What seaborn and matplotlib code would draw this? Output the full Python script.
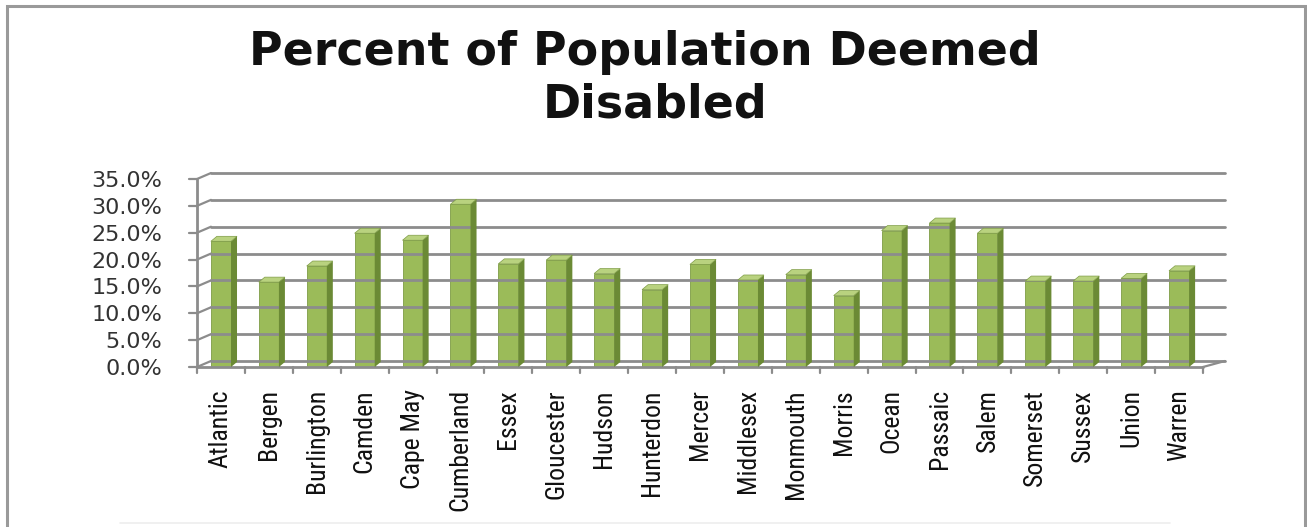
import numpy as np
import pandas as pd
import matplotlib
matplotlib.use("Agg")
import matplotlib.pyplot as plt
import seaborn as sns
from matplotlib import font_manager
from matplotlib.lines import Line2D
from matplotlib.patches import Polygon, Rectangle
from matplotlib.ticker import FuncFormatter, MultipleLocator

counties = ["Atlantic", "Bergen", "Burlington", "Camden", "Cape May", "Cumberland",
            "Essex", "Gloucester", "Hudson", "Hunterdon", "Mercer", "Middlesex",
            "Monmouth", "Morris", "Ocean", "Passaic", "Salem", "Somerset",
            "Sussex", "Union", "Warren"]
pct_disabled = [23.4, 15.8, 18.8, 24.9, 23.6, 30.3, 19.2, 19.9, 17.4, 14.4, 19.1,
                16.2, 17.2, 13.3, 25.4, 26.8, 24.9, 16.0, 16.0, 16.5, 17.9]
title_lines = ["Percent of Population Deemed", "Disabled"]
y_ticks = [0, 5, 10, 15, 20, 25, 30, 35]

df = pd.DataFrame({"County": counties, "Percent": pct_disabled})

# pick a condensed font for category labels if one is installed
label_fp = None
for fam in ["Liberation Sans Narrow", "Roboto Condensed", "Open Sans Condensed",
            "Noto Sans Condensed", "DejaVu Sans Condensed"]:
    try:
        font_manager.findfont(font_manager.FontProperties(family=fam), fallback_to_default=False)
        label_fp = dict(family=[fam, "DejaVu Sans"], fontsize=18.5)
        break
    except Exception:
        pass
if label_fp is None:
    for fam in ["Noto Sans", "DejaVu Sans", "Open Sans"]:
        f = font_manager.findfont(font_manager.FontProperties(family=fam, stretch="condensed"))
        if "ondensed" in f or "arrow" in f:
            label_fp = dict(family=[fam, "DejaVu Sans"], fontstretch="condensed", fontsize=18.5)
            break
if label_fp is None:
    label_fp = dict(family=["Roboto", "DejaVu Sans"], fontsize=15.5)

sns.set_theme(style="white")
plt.rcParams["font.family"] = ["DejaVu Sans"]

W, H, DPI = 1307, 527, 100
fig = plt.figure(figsize=(W / DPI, H / DPI), dpi=DPI)
ax = fig.add_axes([197 / W, (H - 367) / H, (1203 - 197) / W, (367 - 179) / H])

front = "#9BBB59"
side = "#6B8A35"
top = "#B9D27F"
sns.barplot(data=df, x="County", y="Percent", color=front, width=0.42,
            saturation=1, ax=ax, edgecolor="#7E9C46", linewidth=0.6, zorder=3)

ax.set_xlim(-0.5, len(counties) - 0.5)
ax.set_ylim(0, 35)
ax.set_xlabel("")
ax.set_ylabel("")
ax.grid(False)
for s in ax.spines.values():
    s.set_visible(False)

ax.yaxis.set_major_locator(MultipleLocator(5))
ax.yaxis.set_major_formatter(FuncFormatter(lambda v, p: f"{v:.1f}%"))
ax.tick_params(axis="y", labelsize=16, colors="#333333", length=0, pad=25)

ax.set_xticks(range(len(counties)))
ax.set_xticklabels(counties, rotation=90, va="top", ha="center", color="#111111", **label_fp)
ax.tick_params(axis="x", length=0, pad=16)

fig.canvas.draw()
to_px = ax.transData.transform
dx, dy = 14, 6  # perspective offset of back wall (pixels)
grid_c = "#8C8C8C"

def px_line(x0, y0, x1, y1, **kw):
    fig.add_artist(Line2D([x0 / W, x1 / W], [y0 / H, y1 / H], transform=fig.transFigure, **kw))

# back wall gridlines and left diagonals
for v in y_ticks:
    xl, yv = to_px((-0.5, v))
    xr, _ = to_px((len(counties) - 0.5, v))
    px_line(xl + dx, yv + dy, xr + dx + 8, yv + dy, color=grid_c, lw=2.0, zorder=1)
    px_line(xl, yv, xl + dx, yv + dy, color=grid_c, lw=1.6, zorder=1)
    px_line(xl - 8, yv, xl, yv, color=grid_c, lw=1.6, zorder=1)

# front axes
x0p, y0p = to_px((-0.5, 0))
x1p, y1p = to_px((len(counties) - 0.5, 35))
px_line(x0p, y0p, x0p, y1p, color=grid_c, lw=2.0)
px_line(x0p, y0p, x1p, y0p, color=grid_c, lw=2.0)
px_line(x1p, y0p, x1p + dx + 8, y0p + dy, color=grid_c, lw=1.6)
for i in range(len(counties) + 1):
    xb, _ = to_px((i - 0.5, 0))
    px_line(xb, y0p, xb, y0p - 6, color=grid_c, lw=1.6)

# 3D side and top faces derived from bar patches
bdx, bdy = 6, 5
for p in ax.patches:
    (bx0, by0), (bx1, by1) = ax.transData.transform([(p.get_x(), p.get_y()),
                                                     (p.get_x() + p.get_width(), p.get_y() + p.get_height())])
    side_poly = [(bx1, by0), (bx1 + bdx, by0 + bdy), (bx1 + bdx, by1 + bdy), (bx1, by1)]
    top_poly = [(bx0, by1), (bx1, by1), (bx1 + bdx, by1 + bdy), (bx0 + bdx, by1 + bdy)]
    fig.add_artist(Polygon([(a / W, b / H) for a, b in side_poly], closed=True,
                           transform=fig.transFigure, fc=side, ec="none", zorder=4))
    fig.add_artist(Polygon([(a / W, b / H) for a, b in top_poly], closed=True,
                           transform=fig.transFigure, fc=top, ec="#7E9C46", lw=0.5, zorder=4))

# title
title_font = ["DejaVu Sans"]
t1 = fig.text(645 / W, 1 - 65 / H, title_lines[0], ha="center", va="baseline",
              fontsize=30, fontweight="bold", family=title_font, color="#111111")
fig.canvas.draw()
w1 = t1.get_window_extent().width
fs = 30 * 790 / w1
t1.set_fontsize(fs)
fig.text(655 / W, 1 - 118 / H, title_lines[1], ha="center", va="baseline",
         fontsize=fs, fontweight="bold", family=title_font, color="#111111")

# chart border
fig.add_artist(Rectangle((7 / W, -0.05), (1305 - 7) / W, 1.05 - 6 / H, transform=fig.transFigure,
                         fill=False, ec="#9A9A9A", lw=2.2))
px_line(120, 4, 1170, 4, color="#EEEEEE", lw=1.2)

fig.savefig("out.png", dpi=DPI)
